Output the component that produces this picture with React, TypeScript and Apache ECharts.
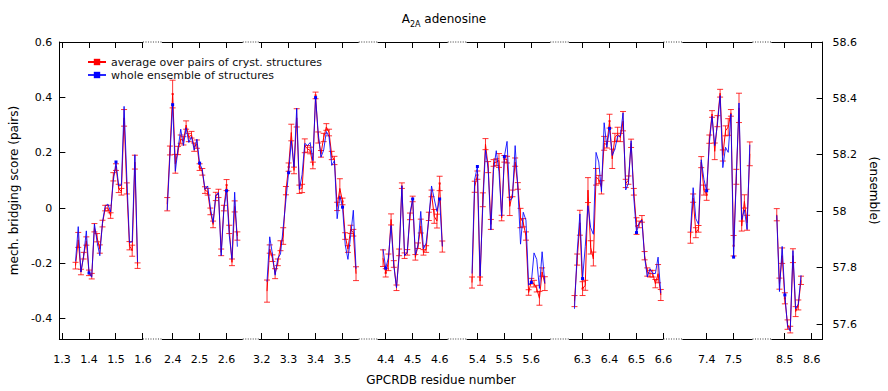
import React, { useEffect, useRef } from 'react';
import * as echarts from 'echarts';

const FONT = 'DejaVu Sans';

// axis structure: [helix, first residue, last residue] and gap widths (in residue slots)
const axisRanges: number[][] = [
  [1, 29, 60], [2, 36, 66], [3, 19, 56], [4, 37, 63],
  [5, 36, 67], [6, 25, 60], [7, 31, 57], [8, 45, 64],
];
const gapSlots = [6, 5, 6, 6, 6, 6, 6];
const tickLabels = ['1.3', '1.4', '1.5', '1.6', '2.4', '2.5', '2.6', '3.2', '3.3', '3.4', '3.5',
  '4.4', '4.5', '4.6', '5.4', '5.5', '5.6', '6.3', '6.4', '6.5', '6.6', '7.4', '7.5', '8.5', '8.6'];
const leftTicks = [-0.4, -0.2, 0, 0.2, 0.4, 0.6];
const rightTicks = [57.6, 57.8, 58, 58.2, 58.4, 58.6];

// helix 1
const h1Start = 35;
const h1Red = [-0.208, -0.115, -0.231, -0.172, -0.119, -0.234, -0.246, -0.071, -0.107, -0.148, -0.056, 0.0, 0.0, -0.027, 0.113, 0.148, 0.071, 0.059, 0.326, 0.071, -0.136, -0.154, 0.166, -0.208];
const h1Blue = [57.823, 57.946, 57.785, 57.841, 57.931, 57.782, 57.767, 57.956, 57.892, 57.843, 57.963, 58.018, 58.026, 57.998, 58.108, 58.175, 58.09, 58.093, 58.372, 58.122, 57.89, 57.892, 58.201, 57.82];
const h1Err = [0.012, 0.027, 0.01, 0.012, 0.015, 0.01, 0.01, 0.015, 0.015, 0.015, 0.012, 0.01, 0.01, 0.01, 0.015, 0.012, 0.015, 0.012, 0.03, 0.02, 0.015, 0.02, 0.025, 0.01];
// helix 2
const h2Start = 38;
const h2Red = [0.014, 0.208, 0.412, 0.16, 0.208, 0.249, 0.243, 0.3, 0.255, 0.265, 0.22, 0.231, 0.148, 0.131, 0.065, 0.059, -0.012, -0.059, 0.042, 0.053, -0.16, 0.0, 0.083, -0.077, -0.196, 0.006, -0.101];
const h2Blue = [58.004, 58.198, 58.378, 58.142, 58.221, 58.291, 58.233, 58.296, 58.244, 58.264, 58.217, 58.256, 58.171, 58.148, 58.078, 58.09, 58.012, 57.96, 58.058, 58.066, 57.843, 58.008, 58.073, 57.915, 57.83, 58.068, 57.875];
const h2Err = [0.024, 0.016, 0.05, 0.034, 0.015, 0.015, 0.015, 0.015, 0.015, 0.012, 0.015, 0.015, 0.012, 0.012, 0.012, 0.012, 0.012, 0.012, 0.015, 0.015, 0.012, 0.01, 0.02, 0.015, 0.012, 0.02, 0.015];
// helix 3
const h3Start = 22;
const h3Red = [-0.3, -0.148, -0.181, -0.237, -0.196, -0.136, -0.101, 0.063, 0.148, 0.273, 0.136, 0.326, 0.068, 0.071, 0.225, 0.214, 0.208, 0.154, 0.407, 0.255, 0.196, 0.255, 0.293, 0.273, 0.19, 0.172, 0.006, 0.071, 0.024, -0.101, -0.148, -0.077, -0.089, -0.237];
const h3Blue = [57.751, 57.91, 57.849, 57.774, 57.834, 57.849, 57.942, 58.041, 58.137, 58.25, 58.157, 58.366, 58.078, 58.13, 58.241, 58.233, 58.244, 58.18, 58.403, 58.276, 58.192, 58.217, 58.283, 58.264, 58.163, 58.18, 57.974, 58.055, 58.015, 57.881, 57.83, 57.913, 58.004, 57.797];
const h3Err = [0.04, 0.015, 0.012, 0.018, 0.012, 0.018, 0.03, 0.015, 0.015, 0.03, 0.012, 0.033, 0.015, 0.015, 0.025, 0.012, 0.012, 0.012, 0.012, 0.02, 0.012, 0.015, 0.012, 0.012, 0.015, 0.015, 0.015, 0.035, 0.012, 0.012, 0.012, 0.015, 0.012, 0.025];
// helix 4
const h4Start = 39;
const h4Red = [-0.181, -0.234, -0.196, -0.041, -0.202, -0.288, -0.16, 0.081, -0.172, -0.16, -0.03, 0.033, -0.178, -0.136, -0.065, -0.16, -0.148, -0.03, 0.053, -0.03, -0.047, 0.089, -0.139];
const h4Blue = [57.867, 57.799, 57.835, 57.95, 57.809, 57.73, 57.843, 58.091, 57.843, 57.855, 57.994, 58.044, 57.846, 57.881, 58.0, 57.867, 57.888, 57.974, 58.09, 58.044, 58.0, 58.044, 57.876];
const h4Err = [0.03, 0.015, 0.03, 0.02, 0.012, 0.01, 0.012, 0.01, 0.01, 0.01, 0.012, 0.01, 0.01, 0.01, 0.025, 0.01, 0.012, 0.015, 0.012, 0.025, 0.025, 0.026, 0.02];
// helix 5
const h5Start = 38;
const h5Red = [-0.269, 0.077, 0.119, -0.264, 0.03, 0.231, 0.148, -0.059, 0.163, 0.166, 0.172, -0.036, 0.178, 0.175, 0.006, 0.053, 0.166, 0.08, -0.036, -0.053, -0.101, -0.305, -0.264, -0.273, -0.291, -0.326, -0.231, -0.273];
const h5Blue = [57.78, 58.113, 58.159, 57.771, 58.018, 58.217, 58.151, 57.934, 58.148, 58.215, 58.14, 57.983, 58.194, 58.248, 58.039, 58.047, 58.233, 58.085, 57.884, 57.997, 57.969, 57.739, 57.748, 57.853, 57.83, 57.727, 57.857, 57.745];
const h5Err = [0.02, 0.02, 0.015, 0.015, 0.025, 0.02, 0.02, 0.018, 0.012, 0.012, 0.025, 0.01, 0.012, 0.012, 0.033, 0.012, 0.015, 0.012, 0.035, 0.015, 0.015, 0.01, 0.01, 0.012, 0.012, 0.025, 0.015, 0.025];
// helix 6
const h6Start = 27;
const h6Red = [-0.336, -0.186, -0.053, -0.291, -0.279, 0.065, -0.142, -0.184, 0.113, 0.103, 0.075, 0.234, 0.229, 0.314, 0.178, 0.255, 0.267, 0.255, 0.314, 0.089, 0.101, 0.234, 0.059, -0.065, -0.059, -0.039, -0.172, -0.231, -0.237, -0.237, -0.273, -0.237, -0.314];
const h6Blue = [57.655, 57.855, 57.991, 57.762, 57.876, 58.02, 57.942, 57.919, 58.209, 58.175, 58.07, 58.314, 58.227, 58.294, 58.198, 58.221, 58.267, 58.267, 58.349, 58.076, 58.099, 58.25, 58.047, 57.925, 57.96, 57.969, 57.838, 57.768, 57.797, 57.78, 57.78, 57.838, 57.71];
const h6Err = [0.02, 0.02, 0.045, 0.025, 0.018, 0.045, 0.024, 0.025, 0.03, 0.015, 0.024, 0.025, 0.012, 0.025, 0.035, 0.015, 0.025, 0.015, 0.035, 0.015, 0.015, 0.015, 0.012, 0.03, 0.012, 0.012, 0.015, 0.015, 0.012, 0.012, 0.015, 0.033, 0.02];
// helix 7
const h7Start = 34;
const h7Red = [-0.107, 0.036, -0.089, -0.075, 0.166, 0.065, 0.048, 0.249, 0.34, 0.205, 0.314, 0.415, 0.19, 0.279, 0.293, 0.344, -0.136, 0.113, 0.362, -0.065, 0.024, -0.053, 0.196];
const h7Blue = [57.927, 58.084, 57.974, 57.954, 58.183, 58.113, 58.073, 58.241, 58.337, 58.233, 58.308, 58.41, 58.155, 58.227, 58.209, 58.345, 57.838, 58.122, 58.384, 57.971, 58.006, 57.936, 58.236];
const h7Err = [0.02, 0.015, 0.018, 0.012, 0.02, 0.018, 0.02, 0.015, 0.012, 0.03, 0.02, 0.014, 0.02, 0.018, 0.03, 0.012, 0.037, 0.027, 0.053, 0.018, 0.024, 0.027, 0.043];
// helix 8
const h8Start = 47;
const h8Red = [-0.024, -0.273, -0.172, -0.326, -0.421, -0.439, -0.172, -0.374, -0.35, -0.261];
const h8Blue = [57.986, 57.716, 57.876, 57.704, 57.593, 57.576, 57.861, 57.655, 57.672, 57.774];
const h8Err = [0.022, 0.02, 0.028, 0.02, 0.017, 0.012, 0.025, 0.018, 0.018, 0.015];

const helixData = [
  { helix: 1, start: h1Start, red: h1Red, blue: h1Blue, err: h1Err },
  { helix: 2, start: h2Start, red: h2Red, blue: h2Blue, err: h2Err },
  { helix: 3, start: h3Start, red: h3Red, blue: h3Blue, err: h3Err },
  { helix: 4, start: h4Start, red: h4Red, blue: h4Blue, err: h4Err },
  { helix: 5, start: h5Start, red: h5Red, blue: h5Blue, err: h5Err },
  { helix: 6, start: h6Start, red: h6Red, blue: h6Blue, err: h6Err },
  { helix: 7, start: h7Start, red: h7Red, blue: h7Blue, err: h7Err },
  { helix: 8, start: h8Start, red: h8Red, blue: h8Blue, err: h8Err },
];

const LEFT_MIN = -0.473;
const LEFT_MAX = 0.6;
const RIGHT_MIN = 57.548;
const RIGHT_MAX = 58.6;
const TICK_LEN = 6;

const resName = (h: number, r: number) => `${h}.${String(r).padStart(2, '0')}`;
const crisp = (v: number) => Math.round(v - 0.5) + 0.5;

function buildOption() {
  const categories: string[] = [];
  const isGap: boolean[] = [];
  const labelAt: string[] = [];
  axisRanges.forEach(([h, a, b], i) => {
    for (let r = a; r <= b; r++) {
      categories.push(resName(h, r));
      isGap.push(false);
      const lab = `${h}.${r / 10}`;
      labelAt.push(r % 10 === 0 && tickLabels.includes(lab) ? lab : '');
    }
    if (i < gapSlots.length) {
      for (let g = 0; g < gapSlots[i]; g++) {
        categories.push(`gap${i}-${g}`);
        isGap.push(true);
        labelAt.push('');
      }
    }
  });
  const n = categories.length;
  const idx: Record<string, number> = {};
  categories.forEach((c, i) => (idx[c] = i));

  const red: (number | null)[] = new Array(n).fill(null);
  const blue: (number | null)[] = new Array(n).fill(null);
  const errBars: number[][] = [];
  helixData.forEach((d) => {
    d.red.forEach((v, k) => {
      const i = idx[resName(d.helix, d.start + k)];
      red[i] = v;
      blue[i] = d.blue[k];
      errBars.push([i, v - d.err[k], v + d.err[k]]);
    });
  });

  // axis breaks: white-out the solid frame and draw a dotted line over the gaps
  const topGap: (number | null)[] = [];
  const botGap: (number | null)[] = [];
  for (let i = 0; i < n; i++) {
    const nearGap = isGap[i] || (i > 0 && isGap[i - 1]) || (i < n - 1 && isGap[i + 1]);
    topGap.push(nearGap ? LEFT_MAX : null);
    botGap.push(nearGap ? LEFT_MIN : null);
  }
  const xTickData: number[][] = [];
  labelAt.forEach((l, i) => { if (l) xTickData.push([i, LEFT_MIN, LEFT_MAX]); });

  const showTick = (index: number) => labelAt[index] !== '';
  const textBase = { fontFamily: FONT, color: '#000', fontWeight: 'normal' as const };
  const tickStyle = { stroke: '#000', lineWidth: 1 };

  const gapSeries = (data: (number | null)[], dotted: boolean) => ({
    type: 'line',
    data,
    xAxisIndex: 0,
    yAxisIndex: 0,
    symbol: 'none',
    showSymbol: false,
    silent: true,
    clip: false,
    connectNulls: false,
    lineStyle: dotted
      ? { color: '#333', width: 1, type: [1, 1.5] }
      : { color: '#ffffff', width: 3 },
    z: dotted ? 11 : 10,
  });

  const xAxisBase = {
    type: 'category',
    data: categories,
    boundaryGap: false,
    axisLine: { show: true, onZero: false, lineStyle: { color: '#000', width: 1 } },
    axisTick: { show: false, interval: showTick },
    splitLine: { show: false },
  };

  return {
    animation: false,
    backgroundColor: '#fff',
    title: {
      text: '{a|A}{s|2A}{a| adenosine}',
      left: 'center',
      top: 4,
      textStyle: {
        fontWeight: 'normal',
        rich: {
          a: { ...textBase, fontSize: 12, lineHeight: 16, verticalAlign: 'bottom' },
          s: { ...textBase, fontSize: 8, lineHeight: 16, verticalAlign: 'bottom', padding: [0, 0, -3, 0] },
        },
      },
    },
    legend: {
      orient: 'vertical',
      left: 82,
      top: 51,
      itemGap: 1,
      itemWidth: 18,
      itemHeight: 8,
      textStyle: { ...textBase, fontSize: 11, lineHeight: 12, color: '#111' },
      data: ['average over pairs of cryst. structures', 'whole ensemble of structures'],
    },
    grid: { left: 59, right: 59, top: 42, bottom: 46, containLabel: false },
    xAxis: [
      {
        ...xAxisBase,
        position: 'bottom',
        axisLabel: {
          show: true,
          interval: showTick,
          formatter: (_v: string, i: number) => labelAt[i],
          ...textBase,
          fontSize: 11,
          margin: 15,
        },
        name: 'GPCRDB residue number',
        nameLocation: 'middle',
        nameGap: 35,
        nameTextStyle: { ...textBase, fontSize: 12 },
      },
      {
        ...xAxisBase,
        position: 'top',
        axisLabel: { show: false, interval: showTick },
      },
    ],
    yAxis: [
      {
        type: 'value',
        min: LEFT_MIN,
        max: LEFT_MAX,
        position: 'left',
        axisLine: { show: true, onZero: false, lineStyle: { color: '#000' } },
        axisTick: { show: false },
        axisLabel: {
          customValues: leftTicks,
          formatter: (v: number) => String(Math.round(v * 10) / 10),
          ...textBase,
          fontSize: 11,
          margin: 7,
        },
        splitLine: { show: false },
        name: 'mech. bridging score (pairs)',
        nameLocation: 'middle',
        nameGap: 36,
        nameTextStyle: { ...textBase, fontSize: 12 },
      },
      {
        type: 'value',
        min: RIGHT_MIN,
        max: RIGHT_MAX,
        position: 'right',
        axisLine: { show: true, onZero: false, lineStyle: { color: '#000' } },
        axisTick: { show: false },
        axisLabel: {
          customValues: rightTicks,
          formatter: (v: number) => String(Math.round(v * 10) / 10),
          ...textBase,
          fontSize: 11,
          margin: 10,
        },
        splitLine: { show: false },
        name: '(ensemble)',
        nameLocation: 'middle',
        nameRotate: -90,
        nameGap: 42,
        nameTextStyle: { ...textBase, fontSize: 12 },
      },
    ],
    series: [
      gapSeries(topGap, false),
      gapSeries(botGap, false),
      gapSeries(topGap, true),
      gapSeries(botGap, true),
      // x ticks (bottom and mirrored at top, pointing inwards)
      {
        type: 'custom',
        xAxisIndex: 0,
        yAxisIndex: 0,
        data: xTickData,
        encode: { x: 0, y: [1, 2] },
        silent: true,
        clip: false,
        z: 12,
        renderItem: (_p: any, api: any) => {
          const x = api.value(0);
          const b = api.coord([x, api.value(1)]);
          const t = api.coord([x, api.value(2)]);
          const xx = crisp(b[0]);
          return {
            type: 'group',
            children: [
              { type: 'line', shape: { x1: xx, y1: b[1], x2: xx, y2: b[1] - TICK_LEN }, style: tickStyle },
              { type: 'line', shape: { x1: xx, y1: t[1], x2: xx, y2: t[1] + TICK_LEN }, style: tickStyle },
            ],
          };
        },
      },
      // left y ticks
      {
        type: 'custom',
        xAxisIndex: 0,
        yAxisIndex: 0,
        data: leftTicks.map((v) => [0, v]),
        encode: { x: 0, y: 1 },
        silent: true,
        clip: false,
        z: 12,
        renderItem: (_p: any, api: any) => {
          const p = api.coord([api.value(0), api.value(1)]);
          const yy = crisp(p[1]);
          return { type: 'line', shape: { x1: p[0], y1: yy, x2: p[0] + TICK_LEN, y2: yy }, style: tickStyle };
        },
      },
      // right y ticks
      {
        type: 'custom',
        xAxisIndex: 0,
        yAxisIndex: 1,
        data: rightTicks.map((v) => [n - 1, v]),
        encode: { x: 0, y: 1 },
        silent: true,
        clip: false,
        z: 12,
        renderItem: (_p: any, api: any) => {
          const p = api.coord([api.value(0), api.value(1)]);
          const yy = crisp(p[1]);
          return { type: 'line', shape: { x1: p[0], y1: yy, x2: p[0] - TICK_LEN, y2: yy }, style: tickStyle };
        },
      },
      {
        type: 'custom',
        name: 'redErr',
        xAxisIndex: 0,
        yAxisIndex: 0,
        data: errBars,
        encode: { x: 0, y: [1, 2] },
        silent: true,
        z: 2,
        renderItem: (_p: any, api: any) => {
          const x = api.value(0);
          const lo = api.coord([x, api.value(1)]);
          const hi = api.coord([x, api.value(2)]);
          const w = 3;
          const style = { stroke: 'rgba(255,0,0,0.8)', lineWidth: 1 };
          return {
            type: 'group',
            children: [
              { type: 'line', shape: { x1: lo[0], y1: lo[1], x2: hi[0], y2: hi[1] }, style },
              { type: 'line', shape: { x1: lo[0] - w, y1: lo[1], x2: lo[0] + w, y2: lo[1] }, style },
              { type: 'line', shape: { x1: hi[0] - w, y1: hi[1], x2: hi[0] + w, y2: hi[1] }, style },
            ],
          };
        },
      },
      {
        type: 'line',
        name: 'average over pairs of cryst. structures',
        xAxisIndex: 0,
        yAxisIndex: 0,
        data: red,
        connectNulls: false,
        symbol: 'rect',
        symbolSize: 2,
        showSymbol: true,
        itemStyle: { color: '#ff0000' },
        lineStyle: { color: '#ff0000', width: 1 },
        z: 3,
      },
      {
        type: 'line',
        name: 'whole ensemble of structures',
        xAxisIndex: 0,
        yAxisIndex: 1,
        data: blue,
        connectNulls: false,
        symbol: 'rect',
        symbolSize: 3,
        showSymbol: true,
        itemStyle: { color: '#0000ff' },
        lineStyle: { color: '#0000ff', width: 1, opacity: 0.85 },
        z: 4,
      },
    ],
  };
}

export default function App() {
  const ref = useRef<HTMLDivElement>(null);
  useEffect(() => {
    if (!ref.current) return;
    const chart = echarts.init(ref.current, null, { renderer: 'svg' });
    chart.setOption(buildOption() as any);
    return () => chart.dispose();
  }, []);
  return (
    <div
      ref={ref}
      style={{ position: 'fixed', left: 0, top: 0, width: 888, height: 391, background: '#fff' }}
    />
  );
}
